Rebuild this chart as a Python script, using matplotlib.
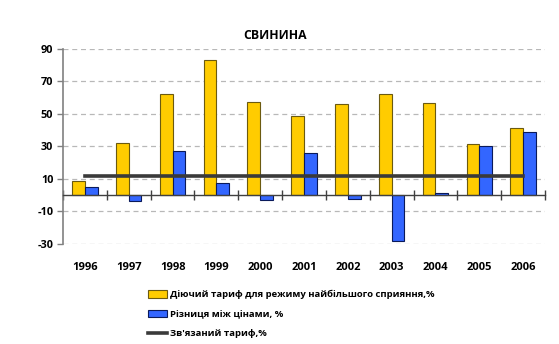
import numpy as np
import matplotlib.pyplot as plt
from matplotlib.ticker import FixedLocator

years = ["1996", "1997", "1998", "1999", "2000", "2001",
         "2002", "2003", "2004", "2005", "2006"]
tariff = [9, 32, 62, 83, 57.3, 48.5, 56, 62.3, 56.5, 31.5, 41.3]
price_diff = [5, -3.5, 27, 7.5, -3.2, 26, -2.2, -28.4, 1.3, 30, 38.9]
bound_tariff = [12] * len(years)

lbl_tariff = "Діючий тариф для режиму найбільшого сприяння,%"
lbl_diff = "Різниця між цінами, %"
lbl_bound = "Зв'язаний тариф,%"

plt.rcParams['font.family'] = ['Open Sans', 'DejaVu Sans']
plt.rcParams['font.weight'] = 'bold'

fig = plt.figure(figsize=(5.59, 3.44), dpi=100)
ax = fig.add_axes([0.1127, 0.2907, 0.8623, 0.5669])

x = np.arange(len(years))
w = 0.29
b1 = ax.bar(x - w / 2, tariff, w, color="#FFCC00", edgecolor="#6b5a10", linewidth=0.8,
            label=lbl_tariff, zorder=3)
b2 = ax.bar(x + w / 2, price_diff, w, color="#3366FF", edgecolor="#0a1a5a", linewidth=0.8,
            label=lbl_diff, zorder=3)
ln, = ax.plot(x, bound_tariff, color="#3a3a3a", linewidth=2.6, label=lbl_bound, zorder=4)

ax.set_xlim(-0.5, len(years) - 0.5)
ax.set_ylim(-30, 90)
yt = [90, 70, 50, 30, 10, -10, -30]
ax.set_yticks(yt)
ax.set_yticklabels([str(v) for v in yt], fontsize=7.8, fontweight='bold')
ax.tick_params(axis='y', length=4, width=1, color='#808080', pad=3)
for v in yt:
    ax.axhline(v, color='#b8b8b8', linestyle=(0, (4, 3)), linewidth=0.9, zorder=1)

ax.spines['top'].set_visible(False)
ax.spines['right'].set_visible(False)
ax.spines['left'].set_color('#808080')
ax.spines['left'].set_linewidth(1.2)
ax.spines['bottom'].set_position(('data', 0))
ax.spines['bottom'].set_color('#404040')
ax.spines['bottom'].set_linewidth(1)
ax.spines['bottom'].set_zorder(5)

ax.set_xticks(x)
ax.set_xticklabels(years, fontsize=8, fontweight='bold')
ax.xaxis.set_minor_locator(FixedLocator(np.arange(-0.5, len(years), 1.0)))
ax.tick_params(axis='x', which='major', length=0, pad=48)
ax.tick_params(axis='x', which='minor', direction='inout', length=7, width=1, color='#404040')

fig.text(0.492, 0.897, "СВИНИНА", ha='center', va='center', fontsize=8.8, fontweight='bold')

fig.legend([b1, b2, ln], [lbl_tariff, lbl_diff, lbl_bound],
           loc='upper left', bbox_to_anchor=(0.258, 0.168), frameon=False,
           fontsize=6.8, labelspacing=1.12, handlelength=2.0, handleheight=0.8,
           handletextpad=0.3, borderaxespad=0)

fig.savefig("out.png", dpi=100)
